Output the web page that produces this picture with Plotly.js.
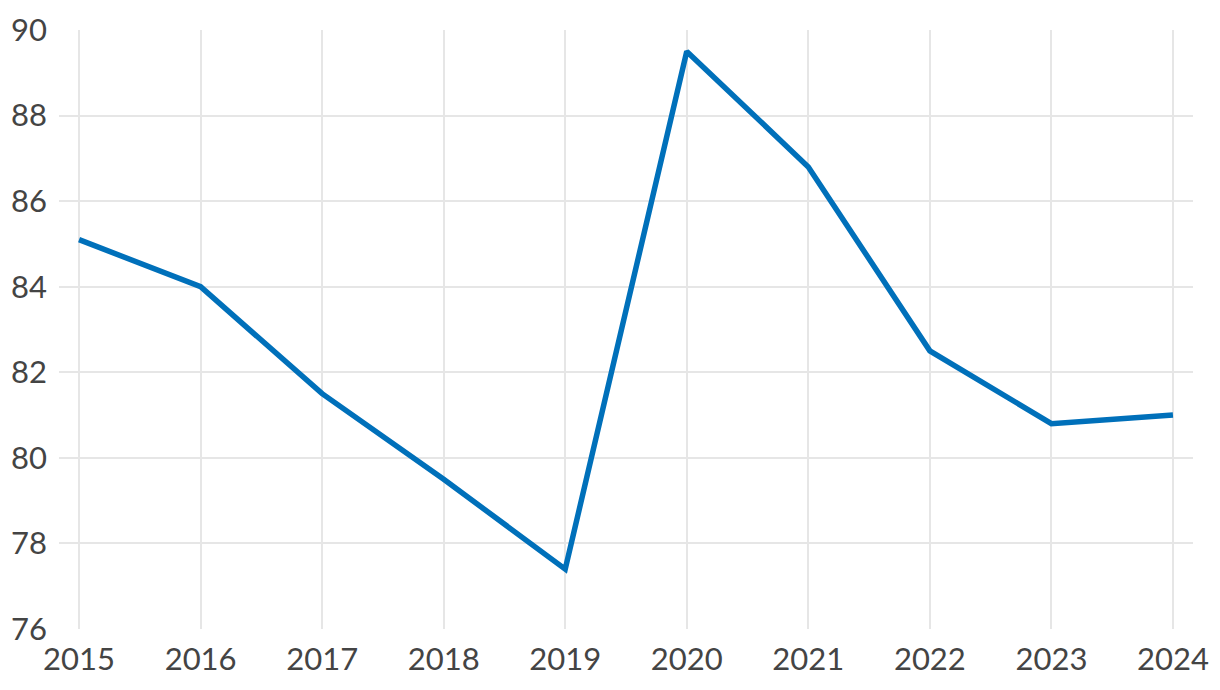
<!DOCTYPE html>
<html>
<head>
<meta charset="utf-8">
<script src="https://cdn.plot.ly/plotly-3.0.1.min.js"></script>
<style>html,body{margin:0;padding:0;background:#fff;}#chart{width:1220px;height:690px;}</style>
</head>
<body>
<div id="chart"></div>
<script>
const years = [2015, 2016, 2017, 2018, 2019, 2020, 2021, 2022, 2023, 2024];
const values = [85.1, 84.0, 81.5, 79.5, 77.4, 89.5, 86.8, 82.5, 80.8, 81.0];
const yTicks = [76, 78, 80, 82, 84, 86, 88, 90];

const trace = {
  x: years,
  y: values,
  type: 'scatter',
  mode: 'lines',
  line: {color: '#0070ba', width: 5.5},
  hoverinfo: 'skip'
};

const layout = {
  width: 1220,
  height: 690,
  margin: {l: 59, r: 27, t: 30, b: 61},
  paper_bgcolor: '#ffffff',
  plot_bgcolor: '#ffffff',
  showlegend: false,
  font: {family: 'Lato, sans-serif', size: 31, color: '#444444'},
  xaxis: {
    range: [2014.835, 2024.165],
    tickvals: years,
    ticktext: years.map(String),
    showgrid: true,
    gridcolor: '#e6e6e6',
    gridwidth: 2,
    zeroline: false,
    showline: false,
    ticks: '',
    ticklabelstandoff: 9,
    tickfont: {family: 'Lato, sans-serif', size: 31, color: '#444444'},
    fixedrange: true
  },
  yaxis: {
    range: [76, 90],
    tickvals: yTicks,
    ticktext: yTicks.map(String),
    showgrid: true,
    gridcolor: '#e6e6e6',
    gridwidth: 2,
    zeroline: false,
    showline: false,
    ticks: '',
    ticklabelstandoff: 11,
    tickfont: {family: 'Lato, sans-serif', size: 31, color: '#444444'},
    fixedrange: true
  }
};

Plotly.newPlot('chart', [trace], layout, {displayModeBar: false, staticPlot: true});
</script>
</body>
</html>
